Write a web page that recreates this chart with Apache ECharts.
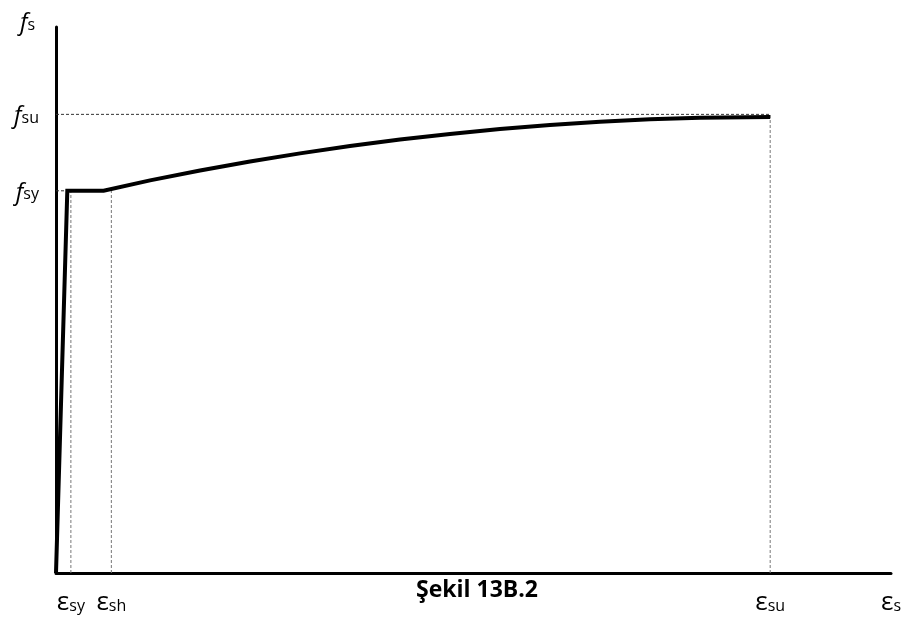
<!DOCTYPE html>
<html>
<head>
<meta charset="utf-8">
<script src="https://cdn.jsdelivr.net/npm/echarts@6/dist/echarts.min.js"></script>
<style>
  html, body { margin: 0; padding: 0; background: #fff; }
  #chart { width: 905px; height: 622px; }
</style>
</head>
<body>
<div id="chart"></div>
<script>
  // stress-strain curve of reinforcing steel
  var curveStrain = [0, 0.0019, 0.0080, 0.0158, 0.0242, 0.0326, 0.0410, 0.0494, 0.0578, 0.0662, 0.0746, 0.0830, 0.0914, 0.0998, 0.1082, 0.1200];
  var curveStress = [0, 420, 420, 431.5, 442.3, 452.2, 461.1, 469.2, 476.4, 482.5, 487.9, 492.3, 495.8, 498.5, 500.2, 501.1];

  // characteristic points
  var epsSy = 0.0025, epsSh = 0.0093, epsSu = 0.12, epsMax = 0.1403;
  var fSy = 420, fSu = 504, fMax = 600;

  // tick labels (subscripts)
  var strainTicks = [epsSy, epsSh, epsSu, epsMax];
  var strainTickLabels = ['sy', 'sh', 'su', 's'];
  var stressTicks = [fSy, fSu, fMax];
  var stressTickLabels = ['sy', 'su', 's'];

  var FONT = '"Open Sans", "DejaVu Sans", sans-serif';

  var chart = echarts.init(document.getElementById('chart'));

  function pairs(xs, ys) {
    return xs.map(function (x, i) { return [x, ys[i]]; });
  }

  function guide(name, pts, color) {
    return {
      name: name,
      type: 'line',
      data: pts,
      symbol: 'none',
      silent: true,
      z: 1,
      lineStyle: { color: color, width: 1, type: [3, 2] }
    };
  }

  var option = {
    animation: false,
    backgroundColor: '#fff',
    title: {
      text: 'Şekil 13B.2',
      left: 416,
      top: 579,
      padding: 0,
      textStyle: { fontFamily: FONT, fontSize: 23, fontWeight: 'bold', color: '#000' }
    },
    grid: { left: 56, right: 14, top: 27, bottom: 49, outerBoundsMode: 'none' },
    xAxis: {
      type: 'value',
      min: 0,
      max: epsMax,
      splitLine: { show: false },
      axisTick: { show: false },
      axisLine: { lineStyle: { color: '#000', width: 3 } },
      axisLabel: {
        customValues: strainTicks,
        margin: 13,
        formatter: function (v) {
          var i = strainTicks.indexOf(v);
          return i < 0 ? '' : '{e|ε}{s|' + strainTickLabels[i] + '}';
        },
        rich: {
          e: { fontFamily: FONT, fontSize: 26, color: '#000', lineHeight: 30, verticalAlign: 'bottom' },
          s: { fontFamily: FONT, fontSize: 16, color: '#000', lineHeight: 30, verticalAlign: 'bottom', padding: [0, 0, 2, 0] }
        }
      }
    },
    yAxis: {
      type: 'value',
      min: 0,
      max: fMax,
      splitLine: { show: false },
      axisTick: { show: false },
      axisLine: { show: true, lineStyle: { color: '#000', width: 3 } },
      axisLabel: {
        customValues: stressTicks,
        margin: 17,
        formatter: function (v) {
          var i = stressTicks.indexOf(v);
          if (i < 0) return '';
          // the top label (axis name) sits a little higher and further left
          if (v === fMax) return '{F|f}{S|' + stressTickLabels[i] + '}';
          return '{f|f}{s|' + stressTickLabels[i] + '}';
        },
        rich: {
          f: { fontFamily: FONT, fontSize: 24, fontStyle: 'italic', color: '#000', lineHeight: 28, verticalAlign: 'bottom' },
          s: { fontFamily: FONT, fontSize: 16, color: '#000', lineHeight: 28, verticalAlign: 'bottom', padding: [0, 0, 2, 0] },
          F: { fontFamily: FONT, fontSize: 24, fontStyle: 'italic', color: '#000', lineHeight: 28, verticalAlign: 'bottom', padding: [0, 0, 6, 0] },
          S: { fontFamily: FONT, fontSize: 16, color: '#000', lineHeight: 28, verticalAlign: 'bottom', padding: [0, 4, 8, 0] }
        }
      }
    },
    series: [
      guide('fsy', [[0, fSy], [curveStrain[1], fSy]], '#333'),
      guide('fsu', [[0, fSu], [epsSu, fSu]], '#333'),
      guide('esy', [[epsSy, 0], [epsSy, fSy]], '#777'),
      guide('esh', [[epsSh, 0], [epsSh, 422]], '#777'),
      guide('esu', [[epsSu, 0], [epsSu, fSu]], '#777'),
      {
        name: 'steel',
        type: 'line',
        data: pairs(curveStrain, curveStress),
        symbol: 'none',
        z: 3,
        lineStyle: { color: '#000', width: 4, join: 'miter' }
      }
    ]
  };

  chart.setOption(option);
</script>
</body>
</html>
